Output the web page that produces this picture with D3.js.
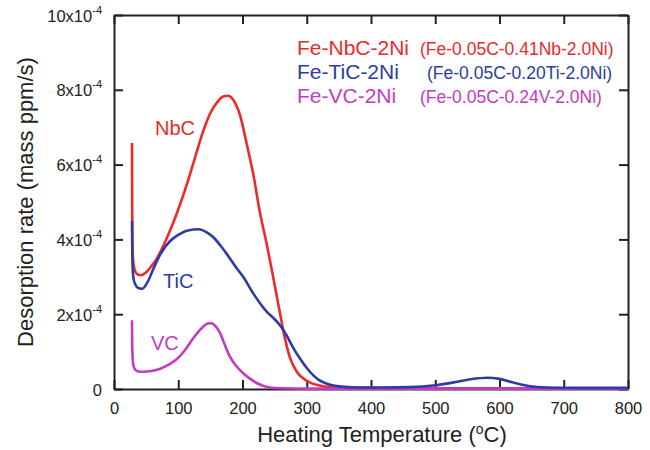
<!DOCTYPE html>
<html>
<head>
<meta charset="utf-8">
<script src="https://cdn.jsdelivr.net/npm/d3@7"></script>
<style>
  body { margin: 0; background: #fff; }
  text { font-family: "Liberation Sans", Arial, sans-serif; }
</style>
</head>
<body>
<svg id="chart"></svg>
<script>
// values, rate in units of 1e-4 mass ppm/s
let nbcData = [[28,6.58],[28.3,5.0],[28.7,4.0],[29.5,3.5],[32,3.2],[36,3.07],[42,3.04],[50,3.12],[58,3.28],[67,3.5],[80,3.95],[90,4.35],[100,4.8],[113,5.45],[126,6.18],[139,6.9],[150,7.38],[162,7.7],[170,7.82],[177,7.84],[186,7.72],[196,7.33],[207,6.52],[217,5.72],[227,4.73],[238,3.85],[248,2.97],[258,2.06],[266,1.36],[274,0.83],[285,0.45],[300,0.22],[318,0.1],[340,0.05],[400,0.03],[500,0.02],[800,0.02]];
let ticData = [[28,4.5],[28.3,3.9],[28.8,3.3],[30,3.0],[33,2.8],[38,2.7],[44,2.68],[52,2.85],[61,3.2],[72,3.6],[87,3.95],[100,4.12],[115,4.24],[132,4.27],[145,4.18],[155,4.05],[165,3.85],[176,3.6],[191,3.23],[201,3.0],[217,2.55],[227,2.3],[238,2.06],[248,1.9],[258,1.71],[268,1.45],[279,1.1],[290,0.8],[300,0.56],[318,0.25],[335,0.12],[350,0.07],[378,0.04],[420,0.04],[460,0.05],[500,0.1],[530,0.18],[555,0.26],[581,0.3],[600,0.27],[620,0.18],[645,0.08],[674,0.04],[720,0.03],[800,0.03]];
let vcData = [[28,1.84],[28.3,1.3],[28.8,0.9],[30,0.65],[33,0.52],[38,0.47],[45,0.46],[58,0.48],[72,0.54],[85,0.65],[98,0.8],[110,1.03],[123,1.35],[135,1.6],[146,1.75],[152,1.76],[158,1.68],[165,1.5],[172,1.2],[180,0.88],[190,0.62],[201,0.42],[212,0.27],[222,0.16],[233,0.08],[243,0.04],[260,0.02],[300,0.01],[800,0.01]];

let xTicks = [0, 100, 200, 300, 400, 500, 600, 700, 800];
let yTicks = [0, 2, 4, 6, 8, 10];

let seriesNames = ["NbC", "TiC", "VC"];
let legendMain = ["Fe-NbC-2Ni", "Fe-TiC-2Ni", "Fe-VC-2Ni"];
let legendSub = ["(Fe-0.05C-0.41Nb-2.0Ni)", "(Fe-0.05C-0.20Ti-2.0Ni)", "(Fe-0.05C-0.24V-2.0Ni)"];
let colors = ["#ec2a2a", "#2c3ca4", "#c23cc2"];

let svgWidth = 650;
let svgHeight = 450;
let margin = {top: 15, right: 22, bottom: 61, left: 114};

let svg = d3.select('#chart')
            .attr('width', svgWidth)
            .attr('height', svgHeight);

let x = d3.scaleLinear().domain([0, 800]).range([margin.left, svgWidth - margin.right]);
let y = d3.scaleLinear().domain([0, 10]).range([svgHeight - margin.bottom, margin.top]);

// frame, ticks pointing inward on all four sides
let frameColor = "#222";
let tickLen = 9;

svg.append('g')
    .attr('transform', `translate(0,${y(0)})`)
    .call(d3.axisBottom(x).tickValues(xTicks).tickSizeInner(-tickLen).tickSizeOuter(0).tickFormat(d3.format("d")).tickPadding(13));
svg.append('g')
    .attr('transform', `translate(0,${y(10)})`)
    .call(d3.axisTop(x).tickValues(xTicks).tickSizeInner(-tickLen).tickSizeOuter(0).tickFormat(""));
svg.append('g')
    .attr('transform', `translate(${x(800)},0)`)
    .call(d3.axisRight(y).tickValues(yTicks).tickSizeInner(-tickLen).tickSizeOuter(0).tickFormat(""));
let yAxis = svg.append('g')
    .attr('class', 'yaxis')
    .attr('transform', `translate(${x(0)},0)`)
    .call(d3.axisLeft(y).tickValues(yTicks).tickSizeInner(-tickLen).tickSizeOuter(0).tickFormat(""));

svg.selectAll('.domain').attr('stroke', frameColor).attr('stroke-width', 2);
svg.selectAll('.tick line').attr('stroke', frameColor).attr('stroke-width', 2);
svg.selectAll('.tick text')
    .style('font-size', '16.5px')
    .attr('fill', '#222');

// y tick labels written as  Nx10^-4
yAxis.selectAll('.tick').each(function(d) {
    let t = d3.select(this).append('text')
                .attr('x', -12)
                .attr('y', 6)
                .attr('text-anchor', 'end')
                .attr('fill', '#222')
                .style('font-size', '16.5px');
    if (d === 0) {
        t.text("0");
    } else {
        t.append('tspan').text(d + "x10");
        t.append('tspan').attr('dy', -8).style('font-size', '11px').text("-4");
    }
});

// curves
let line = d3.line()
            .x(d => x(d[0]))
            .y(d => y(d[1]))
            .curve(d3.curveMonotoneX);

let allData = [nbcData, vcData, ticData];
let allColors = [colors[0], colors[2], colors[1]];
allData.forEach(function(data, i) {
    svg.append('path')
        .datum(data)
        .attr('d', line)
        .attr('fill', 'none')
        .attr('stroke', allColors[i])
        .attr('stroke-width', 2.6)
        .attr('stroke-linejoin', 'round');
});

// curve labels
let labelPos = [[155, 135], [163, 288], [151, 350]];
svg.selectAll('text.curvelabel')
    .data(seriesNames).enter()
    .append('text')
        .attr('class', 'curvelabel')
        .attr('x', (d, i) => labelPos[i][0])
        .attr('y', (d, i) => labelPos[i][1])
        .text(d => d)
        .style('fill', (d, i) => colors[i])
        .style('font-size', '20px');

// legend
let legY = [55, 79, 103];
let subX = [420, 427, 420];
legendMain.forEach(function(name, i) {
    svg.append('text')
        .attr('x', 297)
        .attr('y', legY[i])
        .text(name)
        .style('fill', colors[i])
        .style('font-size', '21px');
    svg.append('text')
        .attr('x', subX[i])
        .attr('y', legY[i])
        .text(legendSub[i])
        .style('fill', colors[i])
        .style('font-size', '17.5px');
});

// axis titles
let xTitle = svg.append('text')
    .attr('x', 382)
    .attr('y', 442)
    .attr('text-anchor', 'middle')
    .attr('fill', '#222')
    .style('font-size', '22px');
xTitle.append('tspan').text("Heating Temperature (");
xTitle.append('tspan').attr('dy', -8).style('font-size', '14px').text("o");
xTitle.append('tspan').attr('dy', 8).text("C)");

svg.append('text')
    .attr('transform', `translate(33,${(y(0) + y(10)) / 2}) rotate(-90)`)
    .attr('text-anchor', 'middle')
    .attr('fill', '#222')
    .style('font-size', '22px')
    .text("Desorption rate (mass ppm/s)");
</script>
</body>
</html>
